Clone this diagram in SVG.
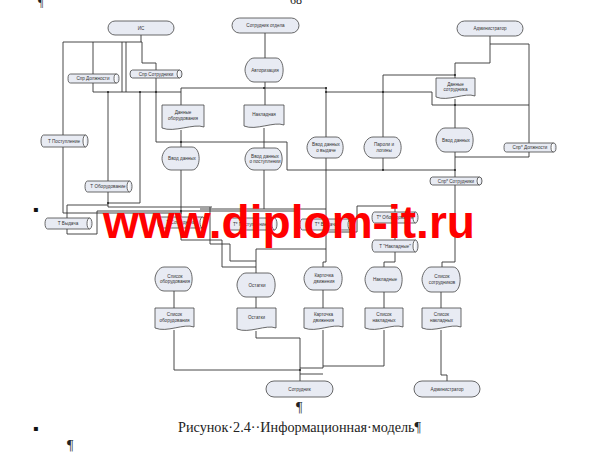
<svg xmlns="http://www.w3.org/2000/svg" width="590" height="460" viewBox="0 0 590 460">
<style>
.n{fill:#e8ebf3;stroke:#444;stroke-width:0.8}
.l{fill:none;stroke:#333;stroke-width:0.9}
.s{font-family:"Liberation Sans",Arial,sans-serif;font-size:4.6px;fill:#333;text-anchor:middle}
.dot{fill:#222}
.p{font-family:"Liberation Serif","Times New Roman",serif;fill:#222}
</style>
<rect width="590" height="460" fill="#fff"/>
<text class="p" x="38" y="6" font-size="12" fill="#888">¶</text>
<text class="p" x="290" y="4" font-size="12" fill="#888">68</text>
<g id="connectors">
<path class="l" d="M141,35 V42 M63,42 H142 M63,42 V213 H182 M93,42 V92 M122,42 V92 M126,42 V92 M142,42 V63 H156 V70 M93,92 H181"/>
<path class="l" d="M108,92 V207 H212 M140,92 V203 H108 M156,78 V142 H287 V170 H455"/>
<path class="l" d="M181,88 V105 M181,88 H327 M181,130 V147 M181,170 V240 H222 V267 H256 M210,207 V244 H230 V261 H256 M256,249 V273 M256,249 H326"/>
<path class="l" d="M67,205 V234 H97 V211 H300 M67,205 H108 M200,209 H326 M264,170 V209 M264,128 V148 M265,33 V58 M265,82 V105"/>
<path class="l" d="M326,88 V137 M326,158 V262 H323 V267 M326,232 H357 V206 H395 V212 M395,223 V240 M395,252 V262 H384 V267"/>
<path class="l" d="M326,92 H432 V105 H529 M383,75 V137 M383,75 H455 M490,36 V63 H455 V78 M490,44 H529 V143 M455,99 V128 M455,152 V262 H442 V267 M529,152 V157 H455 M383,158 V170"/>
<path class="l" d="M174,291 V308 M174,330 V370 H300 M256,297 V308 M256,331 V338 H300 V381 M323,290 V308 M323,330 V368 H300 M384,292 V308 M384,330 V366 H323 M441,292 V308 M441,330 V375 H447 V381 M300,374 H323"/>
<g class="dot">
<circle cx="108" cy="92" r="1"/><circle cx="140" cy="92" r="1"/><circle cx="156" cy="92" r="1"/><circle cx="264" cy="88" r="1"/><circle cx="326" cy="88" r="1"/><circle cx="383" cy="92" r="1"/><circle cx="455" cy="75" r="1"/><circle cx="455" cy="105" r="1"/><circle cx="181" cy="142" r="1"/><circle cx="108" cy="203" r="1"/><circle cx="181" cy="211" r="1"/><circle cx="383" cy="170" r="1"/><circle cx="455" cy="170" r="1"/><circle cx="300" cy="370" r="1"/><circle cx="326" cy="92" r="1"/>
</g>
</g>
<g id="n-is"><rect class="n" x="108" y="21" width="66" height="14" rx="7"/><text class="s" x="141" y="29.7">ИС</text></g>
<g id="n-sotr-otdela"><rect class="n" x="232" y="18" width="67" height="15" rx="7.5"/><text class="s" x="265.5" y="27.2">Сотрудник отдела</text></g>
<g id="n-admin-top"><rect class="n" x="457" y="21" width="66" height="15" rx="7.5"/><text class="s" x="490" y="30.2">Администратор</text></g>
<g id="n-sotr-bottom"><rect class="n" x="266" y="381" width="67" height="16" rx="8"/><text class="s" x="299.5" y="390.7">Сотрудник</text></g>
<g id="n-admin-bottom"><rect class="n" x="414" y="381" width="66" height="16" rx="8"/><text class="s" x="447" y="390.7">Администратор</text></g>

<g id="c-spr-dolzh"><path class="n" d="M70.5,74 H116.5 A2.5,4.5 0 0 1 116.5,83 H70.5 A2.5,4.5 0 0 1 70.5,74 Z M116.5,74 A2.5,4.5 0 0 0 116.5,83"/><text class="s" x="93" y="80.2">Спр Должности</text></g>
<g id="c-spr-sotr"><path class="n" d="M132.5,70 H179.5 A2.5,4 0 0 1 179.5,78 H132.5 A2.5,4 0 0 1 132.5,70 Z M179.5,70 A2.5,4 0 0 0 179.5,78"/><text class="s" x="156" y="75.7">Спр Сотрудники</text></g>
<g id="c-t-post"><path class="n" d="M43.5,135 H85.5 A2.5,6 0 0 1 85.5,147 H43.5 A2.5,6 0 0 1 43.5,135 Z M85.5,135 A2.5,6 0 0 0 85.5,147"/><text class="s" x="64" y="142.7">Т Поступление</text></g>
<g id="c-t-obor"><path class="n" d="M87.5,181 H129.5 A2.5,5.5 0 0 1 129.5,192 H87.5 A2.5,5.5 0 0 1 87.5,181 Z M129.5,181 A2.5,5.5 0 0 0 129.5,192"/><text class="s" x="108" y="188.2">Т Оборудование</text></g>
<g id="c-t-vyd"><path class="n" d="M47.5,218 H89.5 A2.5,5.5 0 0 1 89.5,229 H47.5 A2.5,5.5 0 0 1 47.5,218 Z M89.5,218 A2.5,5.5 0 0 0 89.5,229"/><text class="s" x="68" y="225.2">Т Выдача</text></g>
<g id="c-t-sotr"><path class="n" d="M160.5,217 H202.5 A2.5,5.5 0 0 1 202.5,228 H160.5 A2.5,5.5 0 0 1 160.5,217 Z M202.5,217 A2.5,5.5 0 0 0 202.5,228"/><text class="s" x="181" y="224.2">Т Сотрудники</text></g>
<g id="c-t2-post"><path class="n" d="M227.5,218 H274.5 A2.5,6 0 0 1 274.5,230 H227.5 A2.5,6 0 0 1 227.5,218 Z M274.5,218 A2.5,6 0 0 0 274.5,230"/><text class="s" x="250" y="225.7">Т* Поступление</text></g>
<g id="c-t2-vyd"><path class="n" d="M302.5,219 H350.5 A2.5,5.5 0 0 1 350.5,230 H302.5 A2.5,5.5 0 0 1 302.5,219 Z M350.5,219 A2.5,5.5 0 0 0 350.5,230"/><text class="s" x="326" y="226.2">Т* Выдача</text></g>
<g id="c-t2-obor"><path class="n" d="M374.5,212 H415.5 A2.5,5.5 0 0 1 415.5,223 H374.5 A2.5,5.5 0 0 1 374.5,212 Z M415.5,212 A2.5,5.5 0 0 0 415.5,223"/><text class="s" x="395" y="219.2">Т* Оборудование</text></g>
<g id="c-t-nakl"><path class="n" d="M374.5,240 H415.5 A2.5,6 0 0 1 415.5,252 H374.5 A2.5,6 0 0 1 374.5,240 Z M415.5,240 A2.5,6 0 0 0 415.5,252"/><text class="s" x="395" y="247.7">Т "Накладные"</text></g>
<g id="c-spr2-dolzh"><path class="n" d="M506.5,143 H553.5 A2.5,4.5 0 0 1 553.5,152 H506.5 A2.5,4.5 0 0 1 506.5,143 Z M553.5,143 A2.5,4.5 0 0 0 553.5,152"/><text class="s" x="530" y="149.2">Спр* Должности</text></g>
<g id="c-spr2-sotr"><path class="n" d="M432.5,177 H479.5 A2.5,4 0 0 1 479.5,185 H432.5 A2.5,4 0 0 1 432.5,177 Z M479.5,177 A2.5,4 0 0 0 479.5,185"/><text class="s" x="456" y="182.7">Спр* Сотрудники</text></g>

<g id="d-dannye-obor"><path class="n" d="M162,105 H204 V127 C194,123 174,133 162,128 Z"/><text class="s" x="183" y="114">Данные</text><text class="s" x="183" y="119.5">оборудования</text></g>
<g id="d-nakladnaya"><path class="n" d="M244,105 H284 V125 C274,121 256,131 244,126 Z"/><text class="s" x="264" y="116">Накладная</text></g>
<g id="d-dannye-sotr"><path class="n" d="M436,78 H475 V96 C465,92 448,102 436,97 Z"/><text class="s" x="455.5" y="85.5">Данные</text><text class="s" x="455.5" y="91">сотрудника</text></g>
<g id="d-spisok-obor"><path class="n" d="M155,308 H194 V327 C184,323 167,333 155,328 Z"/><text class="s" x="174.5" y="316">Список</text><text class="s" x="174.5" y="321.5">оборудования</text></g>
<g id="d-ostatki"><path class="n" d="M237,308 H276 V328 C266,324 249,334 237,329 Z"/><text class="s" x="256.5" y="318.5">Остатки</text></g>
<g id="d-kartochka"><path class="n" d="M304,308 H343 V327 C333,323 316,333 304,328 Z"/><text class="s" x="323.5" y="316">Карточка</text><text class="s" x="323.5" y="321.5">движения</text></g>
<g id="d-spisok-nakl"><path class="n" d="M365,308 H403 V327 C393,323 377,333 365,328 Z"/><text class="s" x="384" y="316">Список</text><text class="s" x="384" y="321.5">накладных</text></g>
<g id="d-spisok-nakl2"><path class="n" d="M422,308 H461 V327 C451,323 434,333 422,328 Z"/><text class="s" x="441.5" y="316">Список</text><text class="s" x="441.5" y="321.5">накладных</text></g>

<g id="p-avtorizaciya"><path class="n" d="M254,58 H276 C285.5,58 285.5,82 276,82 H254 C248,82 245,74 245,70 C245,65 249,58 254,58 Z"/><text class="s" x="265" y="71.7">Авторизация</text></g>
<g id="p-vvod-l"><path class="n" d="M171,147 H192 C201.5,147 201.5,170 192,170 H171 C165,170 162,162.5 162,158.5 C162,153.5 166,147 171,147 Z"/><text class="s" x="182" y="160.2">Ввод данных</text></g>
<g id="p-vvod-post"><path class="n" d="M254,148 H275 C284.5,148 284.5,170 275,170 H254 C248,170 245,163 245,159 C245,154 249,148 254,148 Z"/><text class="s" x="265" y="157.5">Ввод данных</text><text class="s" x="265" y="163">о поступлении</text></g>
<g id="p-vvod-vyd"><path class="n" d="M316,137 H336 C345.5,137 345.5,158 336,158 H316 C310,158 307,151.5 307,147.5 C307,142.5 311,137 316,137 Z"/><text class="s" x="326" y="146">Ввод данных</text><text class="s" x="326" y="151.5">о выдаче</text></g>
<g id="p-paroli"><path class="n" d="M373,137 H394 C403.5,137 403.5,158 394,158 H373 C367,158 364,151.5 364,147.5 C364,142.5 368,137 373,137 Z"/><text class="s" x="384" y="146">Пароли и</text><text class="s" x="384" y="151.5">логины</text></g>
<g id="p-vvod-r"><path class="n" d="M445,128 H466 C475.5,128 475.5,152 466,152 H445 C439,152 436,144 436,140 C436,135 440,128 445,128 Z"/><text class="s" x="456" y="141.7">Ввод данных</text></g>
<g id="p-spisok-obor"><path class="n" d="M164,267 H185 C194.5,267 194.5,291 185,291 H164 C158,291 155,283 155,279 C155,274 159,267 164,267 Z"/><text class="s" x="175" y="277.5">Список</text><text class="s" x="175" y="283">оборудования</text></g>
<g id="p-ostatki"><path class="n" d="M246,273 H268 C277.5,273 277.5,297 268,297 H246 C240,297 237,289 237,285 C237,280 241,273 246,273 Z"/><text class="s" x="257" y="286.7">Остатки</text></g>
<g id="p-kartochka"><path class="n" d="M313,267 H335 C344.5,267 344.5,290 335,290 H313 C307,290 304,282.5 304,278.5 C304,273.5 308,267 313,267 Z"/><text class="s" x="324" y="277">Карточка</text><text class="s" x="324" y="282.5">движения</text></g>
<g id="p-nakladnye"><path class="n" d="M374,267 H395 C404.5,267 404.5,292 395,292 H374 C368,292 365,283.5 365,279.5 C365,274.5 369,267 374,267 Z"/><text class="s" x="385" y="281.2">Накладные</text></g>
<g id="p-spisok-sotr"><path class="n" d="M431,267 H453 C462.5,267 462.5,292 453,292 H431 C425,292 422,283.5 422,279.5 C422,274.5 426,267 431,267 Z"/><text class="s" x="442" y="278">Список</text><text class="s" x="442" y="283.5">сотрудников</text></g>

<text x="103" y="238" font-family="'Liberation Sans',Arial,sans-serif" font-weight="bold" font-size="46" fill="#ff0000" textLength="372" lengthAdjust="spacingAndGlyphs">www.diplom-it.ru</text>

<text x="33" y="212" font-family="'DejaVu Sans',sans-serif" font-size="8" fill="#111">▪</text>
<text x="33" y="431" font-family="'DejaVu Sans',sans-serif" font-size="8" fill="#111">▪</text>
<text class="p" x="296" y="412" font-size="14">¶</text>
<text class="p" x="178" y="432" font-size="14" textLength="243" lengthAdjust="spacingAndGlyphs">Рисунок·2.4··Информационная·модель¶</text>
<text class="p" x="67" y="450" font-size="14">¶</text>
</svg>
